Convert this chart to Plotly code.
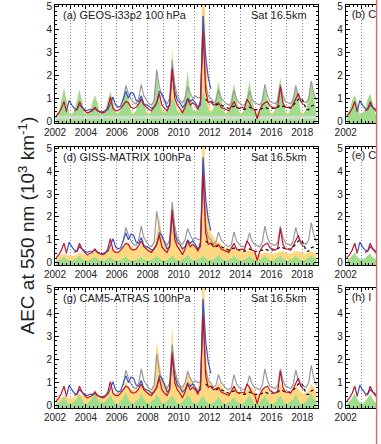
import plotly.graph_objects as go

W, H = 381, 444

# ---------------- data (bimonthly: Feb, Apr, Jun, Aug, Oct, Dec) ----------------
years = list(range(2002, 2019))
N = None

grey_obs = [
    [N, N, N, N, N, N], [N, N, N, N, N, N], [N, N, N, N, N, N], [N, N, N, N, N, N],
    [N, N, 0.9, 1.55, 1.2, 0.95], [0.8, 0.75, 1.0, 1.6, 1.1, 0.9],
    [0.75, 0.7, 0.9, 2.25, 1.5, 1.1], [0.95, 0.75, 1.0, 2.65, 1.6, 1.1],
    [0.9, 0.8, 1.0, 1.5, 1.2, 1.0], [1.1, 1.0, 1.05, 4.6, 1.6, 1.1],
    [1.0, 0.8, 0.9, 1.35, 1.0, 0.85], [0.75, 0.7, 0.8, 1.35, 0.95, 0.8],
    [0.7, 0.7, 0.85, 1.3, 0.95, 0.8], [0.75, 0.7, 0.9, 1.6, 1.1, 0.85],
    [0.8, 0.75, 0.9, 1.6, 1.1, 0.85], [0.8, 0.75, 0.95, 1.55, 1.1, 0.85],
    [0.85, 0.8, 1.0, 1.75, 1.2, 0.9],
]
osiris = [
    [0.22, 0.35, 0.55, 0.85, 0.4, N], [N, 0.45, 0.5, 0.85, 0.6, 0.45],
    [0.35, 0.4, 0.45, 0.6, 0.45, 0.4], [0.35, 0.4, 0.6, 1.05, 0.55, 0.45],
    [0.45, 0.55, 0.7, 0.85, 0.8, 0.6], [0.55, 0.6, 0.75, 0.95, 0.7, 0.6],
    [0.5, 0.45, 0.6, 0.8, 1.2, 0.7], [0.55, 0.45, 0.7, 2.3, 1.0, 0.7],
    [0.55, 0.35, 0.6, 0.95, 0.7, 0.8], [0.7, 0.5, 0.9, 3.9, 1.3, 0.8],
    [0.85, 0.7, 0.75, 0.8, 0.6, 0.55], [0.5, 0.45, 0.65, 0.85, 0.6, 0.55],
    [0.6, 0.55, 0.95, 0.8, 0.55, 0.5], [0.1, 0.5, 0.7, 0.8, 0.85, 0.65],
    [0.6, 0.55, 0.65, 1.5, 0.8, 0.6], [0.6, 0.55, 0.75, 1.0, 1.2, 0.85],
    [0.7, N, N, N, N, N],
]
sciamachy = [
    [N, N, N, N, 0.45, 0.9], [0.7, 0.55, 0.5, 0.7, 0.6, 0.5],
    [0.45, 0.5, 0.5, 0.55, 0.45, 0.4], [0.4, 0.45, 0.5, 0.75, 1.05, 0.7],
    [0.6, 0.65, 0.95, 1.3, 1.0, 1.25], [1.2, 0.9, 0.85, 1.1, 0.75, 0.7],
    [0.65, 0.55, 0.6, 0.8, 1.3, 1.2], [0.9, 0.6, 0.7, 2.1, 1.3, 0.9],
    [0.8, 0.6, 0.7, 1.0, 0.85, 0.95], [0.8, 0.6, 0.7, 4.6, 2.8, 1.9],
    [1.4, N, N, N, N, N], [N] * 6, [N] * 6, [N] * 6, [N] * 6, [N] * 6, [N] * 6,
]
sage = [
    [N] * 6, [N] * 6, [N] * 6, [N] * 6, [N] * 6, [N] * 6, [N] * 6, [N] * 6, [N] * 6,
    [N, N, N, N, 0.95, 0.85], [0.85, 0.75, 0.7, 0.75, 0.7, 0.65],
    [0.6, 0.55, 0.6, 0.65, 0.6, 0.55], [0.55, 0.5, 0.55, 0.6, 0.55, 0.5],
    [0.5, 0.5, 0.55, 0.6, 0.55, 0.55], [0.55, 0.6, 0.6, 0.7, 0.65, 0.6],
    [0.6, 0.6, 0.7, 0.8, 0.95, 1.0], [0.85, 0.5, 0.5, 0.65, 0.7, 0.7],
]

# model components, panel (a) GEOS-i33p2
a_yellow = [
    [0.3, 0.45, 0.85, 1.2, 0.95, 0.35], [0.3, 0.45, 0.85, 1.2, 0.95, 0.35],
    [0.3, 0.4, 0.75, 1.0, 0.85, 0.3], [0.3, 0.45, 0.85, 1.2, 0.95, 0.4],
    [0.35, 0.5, 0.9, 1.3, 1.1, 0.45], [0.35, 0.45, 0.8, 1.1, 0.9, 0.4],
    [0.35, 0.45, 0.9, 1.9, 1.3, 0.5], [0.4, 0.45, 1.0, 3.3, 1.2, 0.5],
    [0.4, 0.5, 1.0, 2.0, 1.2, 0.5], [0.4, 0.5, 1.0, 9.0, 3.5, 0.8],
    [0.45, 0.55, 1.05, 1.6, 1.1, 0.45], [0.35, 0.5, 1.0, 1.5, 1.0, 0.4],
    [0.35, 0.5, 1.05, 1.6, 1.0, 0.4], [0.35, 0.45, 0.95, 1.4, 0.95, 0.4],
    [0.35, 0.5, 1.1, 1.75, 1.05, 0.4], [0.35, 0.5, 1.0, 1.5, 1.0, 0.4],
    [0.35, 0.5, 1.05, 1.65, 1.05, 0.45],
]
a_green = [
    [0.3, 0.45, 0.9, 1.45, 0.85, 0.3], [0.3, 0.45, 0.9, 1.4, 0.85, 0.3],
    [0.3, 0.4, 0.8, 1.15, 0.75, 0.3], [0.3, 0.45, 0.9, 1.3, 0.85, 0.35],
    [0.35, 0.45, 0.95, 1.4, 0.9, 0.35], [0.3, 0.45, 0.85, 1.15, 0.8, 0.35],
    [0.3, 0.45, 1.1, 2.2, 1.0, 0.4], [0.35, 0.45, 0.8, 1.0, 0.8, 0.4],
    [0.35, 0.5, 1.2, 2.2, 1.1, 0.45], [0.4, 0.5, 0.9, 1.3, 0.9, 0.5],
    [0.35, 0.5, 1.1, 1.75, 1.0, 0.4], [0.3, 0.5, 1.05, 1.65, 0.95, 0.35],
    [0.3, 0.5, 1.1, 1.75, 1.0, 0.35], [0.3, 0.45, 1.0, 1.5, 0.9, 0.35],
    [0.3, 0.5, 1.2, 1.9, 1.05, 0.35], [0.3, 0.5, 1.05, 1.6, 0.95, 0.35],
    [0.3, 0.5, 1.1, 1.8, 1.0, 0.4],
]
a_band_years = [2002, 2004, 2006, 2008, 2010, 2012, 2014, 2016, 2018, 2019]
a_band = [0.15, 0.14, 0.15, 0.16, 0.15, 0.16, 0.15, 0.14, 0.15, 0.15]

# panel (d) GISS-MATRIX
d_yellow = [
    [0.3, 0.3, 0.35, 0.4, 0.35, 0.3], [0.3, 0.3, 0.35, 0.45, 0.4, 0.35],
    [0.35, 0.35, 0.4, 0.5, 0.45, 0.4], [0.4, 0.4, 0.5, 0.65, 0.6, 0.5],
    [0.5, 0.5, 0.65, 0.85, 0.9, 0.7], [0.65, 0.6, 0.65, 0.8, 0.75, 0.65],
    [0.6, 0.55, 0.6, 1.3, 2.0, 1.2], [0.9, 0.7, 0.8, 2.2, 1.4, 1.0],
    [0.85, 0.7, 0.75, 0.9, 0.85, 0.75], [0.7, 0.65, 1.2, 8.0, 2.8, 1.7],
    [1.3, 1.1, 0.95, 0.9, 0.8, 0.7], [0.65, 0.6, 0.6, 0.65, 0.6, 0.55],
    [0.5, 0.5, 0.5, 0.55, 0.5, 0.45], [0.35, 0.35, 0.4, 0.45, 0.45, 0.4],
    [0.4, 0.4, 0.45, 0.5, 0.5, 0.45], [0.4, 0.4, 0.45, 0.5, 0.5, 0.45],
    [0.4, 0.4, 0.45, 0.5, 0.45, 0.4],
]
d_green = [
    [0.1, 0.12, 0.18, 0.25, 0.15, 0.1], [0.1, 0.12, 0.2, 0.3, 0.15, 0.1],
    [0.1, 0.12, 0.18, 0.25, 0.15, 0.1], [0.1, 0.12, 0.18, 0.25, 0.15, 0.1],
    [0.1, 0.12, 0.2, 0.28, 0.15, 0.1], [0.1, 0.12, 0.18, 0.25, 0.15, 0.1],
    [0.1, 0.12, 0.2, 0.3, 0.18, 0.12], [0.1, 0.12, 0.2, 0.3, 0.18, 0.12],
    [0.12, 0.15, 0.22, 0.35, 0.2, 0.12], [0.12, 0.15, 0.2, 0.3, 0.2, 0.12],
    [0.12, 0.15, 0.22, 0.35, 0.2, 0.12], [0.1, 0.15, 0.2, 0.3, 0.18, 0.12],
    [0.1, 0.15, 0.2, 0.3, 0.18, 0.12], [0.1, 0.15, 0.2, 0.3, 0.18, 0.12],
    [0.1, 0.15, 0.22, 0.32, 0.18, 0.12], [0.1, 0.15, 0.2, 0.3, 0.18, 0.12],
    [0.1, 0.15, 0.22, 0.32, 0.2, 0.12],
]

# panel (g) CAM5-ATRAS
g_yellow = [
    [0.3, 0.3, 0.35, 0.45, 0.4, 0.35], [0.35, 0.35, 0.45, 0.55, 0.45, 0.4],
    [0.4, 0.4, 0.5, 0.7, 0.55, 0.45], [0.45, 0.45, 0.6, 0.75, 0.6, 0.5],
    [0.55, 0.6, 0.8, 1.05, 0.85, 0.7], [0.7, 0.65, 0.8, 1.0, 0.85, 0.7],
    [0.7, 0.65, 0.9, 2.8, 2.0, 1.2], [1.1, 0.8, 1.0, 3.5, 1.6, 1.1],
    [0.9, 0.8, 0.9, 1.5, 1.2, 0.9], [0.8, 0.75, 1.3, 8.0, 2.4, 1.2],
    [0.9, 0.75, 0.8, 1.05, 0.85, 0.7], [0.6, 0.55, 0.65, 0.9, 0.75, 0.6],
    [0.55, 0.55, 0.7, 0.9, 0.75, 0.6], [0.5, 0.5, 0.65, 0.85, 0.7, 0.55],
    [0.5, 0.55, 0.7, 0.95, 0.75, 0.6], [0.55, 0.55, 0.7, 0.9, 0.75, 0.6],
    [0.55, 0.55, 0.7, 0.95, 0.8, 0.6],
]
g_green = [
    [0.1, 0.15, 0.25, 0.4, 0.2, 0.1], [0.1, 0.2, 0.3, 0.5, 0.25, 0.1],
    [0.1, 0.2, 0.35, 0.65, 0.3, 0.15], [0.15, 0.2, 0.3, 0.45, 0.25, 0.1],
    [0.1, 0.2, 0.35, 0.6, 0.3, 0.15], [0.1, 0.2, 0.3, 0.55, 0.3, 0.15],
    [0.1, 0.2, 0.3, 0.5, 0.3, 0.15], [0.1, 0.2, 0.3, 0.45, 0.25, 0.1],
    [0.1, 0.2, 0.3, 0.5, 0.3, 0.15], [0.1, 0.15, 0.3, 0.45, 0.25, 0.1],
    [0.1, 0.15, 0.25, 0.4, 0.25, 0.1], [0.1, 0.15, 0.25, 0.4, 0.2, 0.1],
    [0.1, 0.15, 0.3, 0.45, 0.25, 0.1], [0.1, 0.15, 0.3, 0.45, 0.25, 0.1],
    [0.1, 0.15, 0.3, 0.45, 0.25, 0.1], [0.1, 0.2, 0.3, 0.5, 0.25, 0.1],
    [0.1, 0.2, 0.35, 0.55, 0.3, 0.15],
]
# right column panels (only 2002-2004 visible)
b_green = [[0.3, 0.5, 0.9, 1.15, 0.8, 0.3], [0.35, 0.5, 0.95, 1.2, 0.8, 0.3], [0.3, 0.45, 0.8, 1.0, 0.7, 0.3]]
e_green = [[0.15, 0.2, 0.3, 0.45, 0.25, 0.15], [0.15, 0.2, 0.3, 0.4, 0.25, 0.15], [0.15, 0.2, 0.3, 0.4, 0.25, 0.15]]
h_green = [[0.1, 0.2, 0.35, 0.55, 0.3, 0.15], [0.1, 0.2, 0.35, 0.5, 0.3, 0.15], [0.1, 0.2, 0.3, 0.5, 0.3, 0.1]]

titles = ["(a) GEOS-i33p2 100 hPa", "(d) GISS-MATRIX 100hPa", "(g) CAM5-ATRAS 100hPa"]
titles_right = ["(b) C", "(e) C", "(h) I"]
sat_label = "Sat 16.5km"
legend_names = ["OSIRIS", "SCIAMACHY", "SAGE III"]
ytitle = "AEC at 550 nm (10<sup>3</sup> km<sup>-1</sup>)"
tick_years = list(range(2002, 2020))

# ---------------- helpers ----------------
def flat(rows):
    return [v for r in rows for v in r]

def tgrid(nyears):
    return [2002 + y + (2 * k + 1) / 12 for y in range(nyears) for k in range(6)]

def px(x):
    return x / W

def py(y):
    return 1 - y / H

FONT = "Liberation Sans, Arial, sans-serif"
GREEN = "rgb(160,220,142)"
YELLOW = "rgb(253,216,128)"
RED = "#c4112d"
BLUE = "#3656c0"
GREY = "#9a9a9a"
YMIN, YMAX = -0.1, 5.07
PPY = 15.47  # px per year

left_x = [55, 317.7]
right_x = [345.7, 376.0]
rows = [[5, 123.3], [146.7, 265.0], [288.3, 408.3]]

fig = go.Figure()
layout = dict(
    width=W, height=H, margin=dict(l=0, r=0, t=0, b=0, pad=0, autoexpand=False),
    paper_bgcolor="white", plot_bgcolor="white", showlegend=False,
    font=dict(family=FONT, color="#222"),
)

def xaxis_cfg(dom, anchor, rng):
    return dict(
        domain=[px(dom[0]), px(dom[1])], anchor=anchor, range=rng, automargin=False,
        tickmode="array", tickvals=tick_years,
        ticktext=[str(y) if y % 2 == 0 else "" for y in tick_years],
        ticks="inside", ticklen=4, tickwidth=1, tickcolor="black",
        showline=True, linecolor="black", linewidth=1, mirror="allticks",
        showgrid=True, gridcolor="#8c8c8c", griddash="1px,2px", gridwidth=1,
        minor=dict(dtick=0.25, tick0=2002, ticks="inside", ticklen=2,
                   tickcolor="black", showgrid=False),
        zeroline=False, tickfont=dict(size=10, family=FONT, color="#222"),
    )

def yaxis_cfg(dom, anchor, mirror=True):
    return dict(
        domain=[py(dom[1]), py(dom[0])], anchor=anchor, range=[YMIN, YMAX], automargin=False,
        tickmode="array", tickvals=[0, 1, 2, 3, 4, 5],
        ticks="inside", ticklen=4, tickwidth=1, tickcolor="black",
        showline=True, linecolor="black", linewidth=1,
        mirror="allticks" if mirror else False,
        minor=dict(dtick=0.2, tick0=0, ticks="inside", ticklen=2, tickcolor="black"),
        showgrid=False, zeroline=False,
        tickfont=dict(size=10, family=FONT, color="#222"),
    )

def add_fill(vals, t, color, xa, ya):
    xs = list(t) + list(reversed(t))
    ys = list(vals) + [YMIN] * len(t)
    fig.add_trace(go.Scatter(x=xs, y=ys, mode="lines", line=dict(width=0, color=color),
                             fill="toself", fillcolor=color, opacity=1,
                             hoverinfo="skip", xaxis=xa, yaxis=ya))

def add_obs(xa, ya, nyears=17):
    t = tgrid(nyears)
    fig.add_trace(go.Scatter(x=t, y=flat(grey_obs)[:len(t)], mode="lines",
                             line=dict(color=GREY, width=1.2), xaxis=xa, yaxis=ya))
    fig.add_trace(go.Scatter(x=t, y=flat(sage)[:len(t)], mode="lines",
                             line=dict(color="black", width=1.2, dash="dot"), xaxis=xa, yaxis=ya))
    fig.add_trace(go.Scatter(x=t, y=flat(sciamachy)[:len(t)], mode="lines",
                             line=dict(color=BLUE, width=1.2), xaxis=xa, yaxis=ya))
    fig.add_trace(go.Scatter(x=t, y=flat(osiris)[:len(t)], mode="lines",
                             line=dict(color=RED, width=1.2), xaxis=xa, yaxis=ya))

T = tgrid(17)
left_fills = [(a_yellow, a_green), (d_yellow, d_green), (g_yellow, g_green)]
right_fills = [b_green, e_green, h_green]

annotations = []
for i in range(3):
    # left panel
    n = 2 * i + 1
    xa, ya = ("x" if n == 1 else f"x{n}"), ("y" if n == 1 else f"y{n}")
    layout["xaxis" if n == 1 else f"xaxis{n}"] = xaxis_cfg(left_x, ya, [2002, 2019])
    layout["yaxis" if n == 1 else f"yaxis{n}"] = yaxis_cfg(rows[i], xa)
    yel, grn = left_fills[i]
    add_fill(flat(yel), T, YELLOW, xa, ya)
    add_fill(flat(grn), T, GREEN, xa, ya)
    if i == 0:
        fig.add_trace(go.Scatter(x=a_band_years, y=a_band, mode="lines",
                                 line=dict(color="rgba(214,222,210,0.85)", width=3.5),
                                 hoverinfo="skip", xaxis=xa, yaxis=ya))
    add_obs(xa, ya)
    ytxt = rows[i][0] + 10
    annotations.append(dict(xref="paper", yref="paper", x=px(61), y=py(ytxt),
                            xanchor="left", yanchor="middle", text=titles[i], showarrow=False,
                            font=dict(size=11, family=FONT, color="#222")))
    annotations.append(dict(xref="paper", yref="paper", x=px(308.5), y=py(ytxt),
                            xanchor="right", yanchor="middle", text=sat_label, showarrow=False,
                            font=dict(size=11, family=FONT, color="#222")))
    # right panel (cut off)
    n = 2 * i + 2
    xa, ya = f"x{n}", f"y{n}"
    xr = 2002 + (right_x[1] - right_x[0]) / PPY
    layout[f"xaxis{n}"] = xaxis_cfg(right_x, ya, [2002, xr])
    layout[f"yaxis{n}"] = yaxis_cfg(rows[i], xa, mirror=False)
    Tr = tgrid(3)
    add_fill(flat(right_fills[i]), Tr, GREEN, xa, ya)
    add_obs(xa, ya, nyears=3)
    fig.add_trace(go.Scatter(x=[2002 + 6 / PPY], y=[YMIN + (YMAX - YMIN) * (1 - 10 / (rows[i][1] - rows[i][0]))],
                             mode="text", text=[titles_right[i]], textposition="middle right",
                             cliponaxis=True,
                             textfont=dict(size=11, family=FONT, color="#222"),
                             xaxis=xa, yaxis=ya))

# y-axis title
annotations.append(dict(xref="paper", yref="paper", x=px(26.5), y=py(226), xanchor="center",
                        yanchor="middle", textangle=-90, text=ytitle, showarrow=False,
                        font=dict(size=19, family=FONT, color="#222")))
# legend (cut off at bottom)
for name, xl in zip(legend_names, [110, 192, 317]):
    annotations.append(dict(xref="paper", yref="paper", x=px(xl), y=py(443), xanchor="left",
                            yanchor="top", text=name, showarrow=False,
                            font=dict(size=12.5, family=FONT, color="#222")))

layout["annotations"] = annotations
layout["shapes"] = [dict(type="line", xref="paper", yref="paper", x0=px(376.6), x1=px(376.6),
                         y0=0, y1=1, line=dict(color="#e06a6a", width=1.5), layer="above")]
fig.update_layout(**layout)
fig.write_html("out.html")
